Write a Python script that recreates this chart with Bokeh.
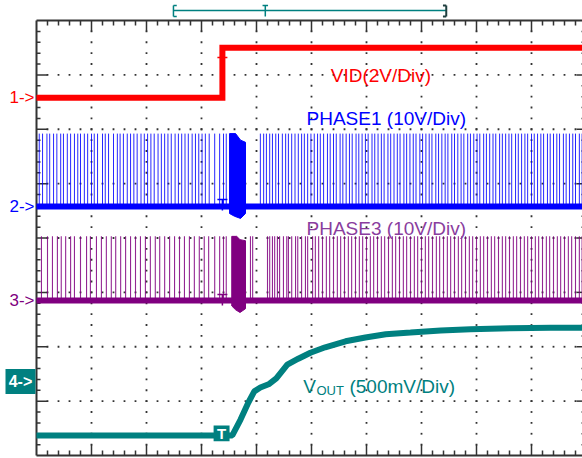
import numpy as np
from bokeh.plotting import figure
from bokeh.models import Range1d
from bokeh.embed import file_html
from bokeh.resources import INLINE
from bokeh.core.properties import value

# ---- data: time in horizontal divisions (0..10), amplitude in vertical divisions (0..8)
vid_t = [0.0, 3.38, 3.38, 9.95]
vid_v = [6.58, 6.58, 7.50, 7.50]

p1_base = 4.58
p1_top = 5.92
p1_pulses = [0.05, 0.11, 0.19, 0.24, 0.31, 0.37, 0.44, 0.49, 0.56, 0.62, 0.69, 0.75, 0.80, 0.87,
             0.93, 1.00, 1.05, 1.11, 1.20, 1.25, 1.31, 1.40, 1.47, 1.52, 1.58, 1.65, 1.71, 1.77,
             1.83, 1.90, 1.96, 2.02, 2.08, 2.14, 2.21, 2.27, 2.33, 2.39, 2.45, 2.52, 2.58, 2.64,
             2.70, 2.76, 2.83, 2.89, 2.95, 3.01, 3.07, 3.14, 3.24, 3.33, 3.40, 3.45,
             4.07, 4.13, 4.18, 4.24, 4.29, 4.35, 4.40, 4.47, 4.53, 4.58, 4.64, 4.70, 4.76, 4.82,
             4.87, 4.93, 4.99, 5.05, 5.11, 5.16, 5.22, 5.29, 5.34, 5.40, 5.45, 5.52, 5.57, 5.63,
             5.69, 5.74, 5.81, 5.86, 5.92, 5.98, 6.03, 6.10, 6.15, 6.21, 6.27, 6.32, 6.39, 6.44,
             6.50, 6.56, 6.61, 6.68, 6.73, 6.79, 6.85, 6.90, 6.97, 7.02, 7.08, 7.14, 7.19, 7.26,
             7.31, 7.37, 7.43, 7.48, 7.55, 7.60, 7.66, 7.72, 7.77, 7.84, 7.89, 7.95, 8.01, 8.06,
             8.13, 8.18, 8.24, 8.30, 8.35, 8.42, 8.47, 8.53, 8.59, 8.64, 8.71, 8.76, 8.82, 8.88,
             8.93, 9.00, 9.05, 9.11, 9.17, 9.22, 9.29, 9.34, 9.40, 9.46, 9.51, 9.58, 9.63, 9.69,
             9.75, 9.80, 9.87, 9.92]
p1_burst_t = [3.51, 3.51, 3.62, 3.71, 3.80, 3.80, 3.71, 3.60, 3.51]
p1_burst_v = [4.45, 5.92, 5.92, 5.80, 5.76, 4.45, 4.36, 4.40, 4.45]

p3_base = 2.85
p3_top = 4.03
p3_pulses = [0.09, 0.20, 0.29, 0.38, 0.45, 0.53, 0.62, 0.69, 0.80, 0.91, 0.98, 1.09, 1.18, 1.27,
             1.36, 1.44, 1.53, 1.62, 1.71, 1.80, 1.89, 1.98, 2.07, 2.16, 2.24, 2.33, 2.42, 2.51,
             2.60, 2.69, 2.78, 2.87, 2.96, 3.05, 3.13, 3.24, 3.33, 3.40, 3.45,
             3.89, 3.93, 4.20, 4.24, 4.29, 4.33, 4.38, 4.42, 4.49, 4.55, 4.58, 4.64, 4.71, 4.75,
             4.82, 4.89, 4.93, 5.02, 5.07, 5.13, 5.20, 5.27, 5.33, 5.40, 5.47, 5.53, 5.60, 5.67,
             5.73, 5.80, 5.87, 5.93, 6.00, 6.07, 6.13, 6.20, 6.27, 6.33, 6.40, 6.47, 6.53, 6.60,
             6.67, 6.73, 6.80, 6.87, 6.93, 7.00, 7.07, 7.13, 7.20, 7.27, 7.33, 7.40, 7.47, 7.53,
             7.60, 7.67, 7.73, 7.80, 7.87, 7.93, 8.00, 8.07, 8.13, 8.20, 8.27, 8.33, 8.40, 8.47,
             8.53, 8.60, 8.67, 8.73, 8.80, 8.87, 8.93, 9.00, 9.07, 9.13, 9.20, 9.27, 9.33, 9.40,
             9.47, 9.53, 9.60, 9.67, 9.73, 9.80, 9.87, 9.92]
p3_burst_t = [3.55, 3.55, 3.64, 3.70, 3.80, 3.80, 3.70, 3.62, 3.55]
p3_burst_v = [2.75, 4.03, 4.03, 3.97, 3.95, 2.70, 2.63, 2.68, 2.75]

vout_t = [0.0, 3.56, 3.71, 3.85, 3.96, 4.07, 4.22, 4.36, 4.56, 4.76, 4.98, 5.25, 5.62,
          5.98, 6.35, 6.80, 7.35, 7.89, 8.62, 9.35, 9.95]
vout_v = [0.37, 0.37, 0.66, 0.97, 1.18, 1.25, 1.31, 1.42, 1.67, 1.78, 1.89, 1.99, 2.10,
          2.17, 2.23, 2.26, 2.30, 2.32, 2.34, 2.35, 2.35]

ch_levels = [6.58, 4.58, 2.85, 1.36]
trig_t = 3.38

RED = "#ff0000"
BLUE = "#0000ff"
PURPLE = "#800080"
TEAL = "#008080"
FONT = value("Liberation Sans")

XPX = 55.0       # px per horizontal division
YPX = 54.375     # px per vertical division

p = figure(width=582, height=458,
           x_range=Range1d(-36 / XPX, 546 / XPX),
           y_range=Range1d(-3 / YPX, 8 + 20 / YPX),
           output_backend="svg", toolbar_location=None,
           x_axis_location=None, y_axis_location=None, min_border=0)
p.grid.visible = False
p.outline_line_color = None
p.background_fill_color = "white"
p.border_fill_color = "white"

# ---- graticule dots
gx, gy = [], []
for cx in range(1, 10):
    for k in range(1, 40):
        gx.append(cx); gy.append(k * 0.2)
for cy in range(1, 8):
    for k in range(1, 50):
        gx.append(k * 0.2); gy.append(cy)
p.scatter(gx, gy, marker="square", size=1.8, color="#333333", line_color=None)

# ---- borders
bc = "#333333"
p.segment(x0=[0, 0, 0], y0=[0, 8, 0], x1=[0, 10, 10], y1=[8, 8, 0],
          line_color=bc, line_width=2)
tx0, ty0, tx1, ty1 = [], [], [], []
for k in range(1, 40):
    yy = k * 0.2
    major = (k % 5 == 0)
    L = (11 if major else 4) / XPX
    tx0 += [0, 10]; tx1 += [L, 10 - (10 if major else 5) / XPX]; ty0 += [yy, yy]; ty1 += [yy, yy]
for k in range(1, 50):
    xx = k * 0.2
    major = (k % 5 == 0)
    L = (11 if major else 5) / YPX
    tx0 += [xx, xx]; tx1 += [xx, xx]; ty0 += [8, 0]; ty1 += [8 - L, L]
p.segment(x0=tx0, y0=ty0, x1=tx1, y1=ty1, line_color=bc, line_width=1.5)

# ---- top trigger bracket
by = 8 + 10 / YPX
bt, bb = 8 + 15 / YPX, 8 + 4 / YPX
p.segment(x0=[2.49], y0=[by], x1=[7.45], y1=[by], line_color=TEAL, line_width=1.5)
p.segment(x0=[2.49, 2.49, 2.49, 4.16, 4.11],
          y0=[bb, bb, bt, bb, bt],
          x1=[2.49, 2.55, 2.55, 4.16, 4.21],
          y1=[bt, bb, bt, bt, bt],
          line_color=TEAL, line_width=1.5)
p.segment(x0=[7.45, 7.45, 7.39], y0=[bb, bb, bt],
          x1=[7.45, 7.39, 7.45], y1=[bt, bb, bt],
          line_color="#1f3f3f", line_width=2)

# ---- PHASE3
p.segment(x0=p3_pulses, y0=[p3_base] * len(p3_pulses), x1=p3_pulses, y1=[p3_top] * len(p3_pulses),
          line_color=PURPLE, line_width=1.1, line_alpha=0.85)
p.patch(p3_burst_t, p3_burst_v, fill_color=PURPLE, line_color=PURPLE)
p.line([0, 9.95], [p3_base, p3_base], line_color=PURPLE, line_width=6)

# ---- PHASE1
p.segment(x0=p1_pulses, y0=[p1_base] * len(p1_pulses), x1=p1_pulses, y1=[p1_top] * len(p1_pulses),
          line_color=BLUE, line_width=1.0, line_alpha=0.85)
p.patch(p1_burst_t, p1_burst_v, fill_color=BLUE, line_color=BLUE)
p.line([0, 9.95], [p1_base, p1_base], line_color=BLUE, line_width=6)

# ---- VID
p.line(vid_t, vid_v, line_color=RED, line_width=6, line_join="miter")
p.segment(x0=[trig_t], y0=[vid_v[0]], x1=[trig_t], y1=[vid_v[-1]], line_color=RED, line_width=2)

# ---- VOUT
p.line(vout_t, vout_v, line_color=TEAL, line_width=6)

# ---- channel trigger T marks
tw = 5 / XPX
for lvl, col in [(7.32, RED), (4.71, BLUE), (2.96, PURPLE)]:
    p.segment(x0=[trig_t - tw, trig_t], y0=[lvl, lvl], x1=[trig_t + tw, trig_t],
              y1=[lvl, lvl - 11 / YPX], line_color=col, line_width=1.5)
p.quad(left=[3.22], right=[3.51], bottom=[0.26], top=[0.55], fill_color=TEAL, line_color=None)
p.text(x=[3.365], y=[0.405], text=["T"], text_color="white", text_font=FONT,
       text_font_size="15px", text_font_style="bold", text_align="center", text_baseline="middle")

# ---- channel markers
for lvl, col, lab in [(ch_levels[0], RED, "1->"), (ch_levels[1], BLUE, "2->"), (ch_levels[2], PURPLE, "3->")]:
    p.text(x=[-2 / XPX], y=[lvl], text=[lab], text_color=col, text_font=FONT,
           text_font_size="17px", text_align="right", text_baseline="middle")
p.quad(left=[-31 / XPX], right=[-1 / XPX], bottom=[ch_levels[3] - 0.23], top=[ch_levels[3] + 0.23],
       fill_color=TEAL, line_color=None)
p.text(x=[-16 / XPX], y=[ch_levels[3]], text=["4->"], text_color="white", text_font=FONT,
       text_font_size="16px", text_font_style="bold", text_align="center", text_baseline="middle")

# ---- trace labels
lab = dict(text_font=FONT, text_font_size="19px", text_baseline="alphabetic", text_align="left")
p.text(x=[5.35], y=[6.99], text=["VID(2V/Div)"], text_color=RED, **lab)
p.text(x=[4.91], y=[6.20], text=["PHASE1 (10V/Div)"], text_color=BLUE, **lab)
p.text(x=[4.91], y=[4.17], text=["PHASE3 (10V/Div)"], text_color="#8a3d9e", **lab)
p.text(x=[4.85], y=[1.27], text=["V"], text_color=TEAL, **lab)
p.text(x=[5.09], y=[1.20], text=["OUT"], text_color=TEAL, text_font=FONT, text_font_size="13px",
       text_baseline="alphabetic", text_align="left")
p.text(x=[5.69], y=[1.27], text=["(500mV/Div)"], text_color=TEAL, **lab)

open("out.html", "w").write(file_html(p, INLINE))
